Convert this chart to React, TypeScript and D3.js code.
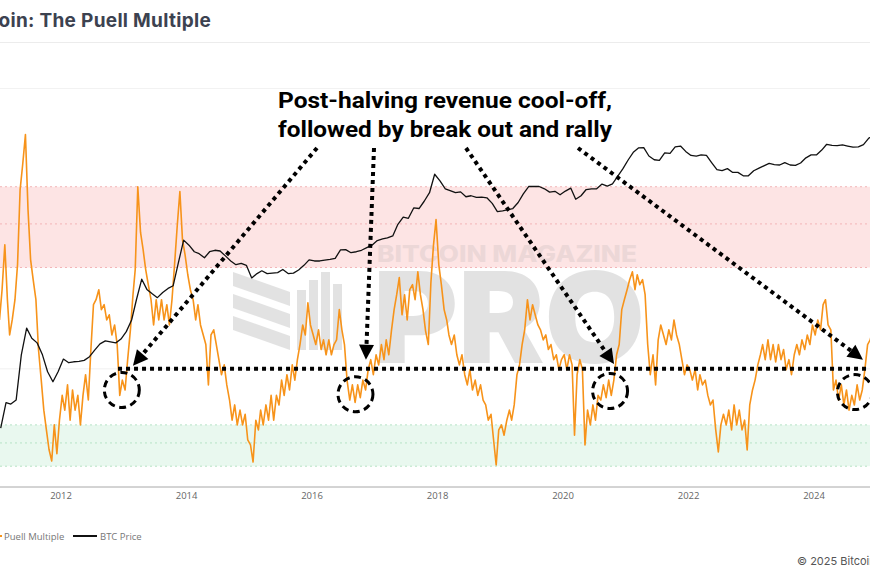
import * as d3 from 'd3'

// Puell Multiple, two readings per month (8th and 23rd), Jan 2011 .. Dec 2024
const puell2011 = [1.83, 2.66, 4.64, 2.35, 1.52, 1.83, 2.35, 3.63, 9.17, 12.5, 18.1, 7.16, 3.86, 3.01, 2.35, 1.27, 0.87, 0.6, 0.47, 0.37, 0.32, 0.5, 0.35, 0.53]
const puell2012 = [0.72, 0.6, 0.82, 0.53, 0.77, 0.6, 0.72, 0.5, 0.72, 0.93, 0.68, 1.27, 2.21, 2.35, 2.66, 2.08, 2.21, 1.83, 1.95, 1.52, 1.72, 1.35, 0.72, 0.87]
const puell2013 = [0.77, 1.12, 1.62, 2.5, 3.41, 9.5, 5.4, 4.36, 3.41, 2.83, 2.35, 1.72, 2.35, 1.83, 2.35, 1.83, 2.21, 1.72, 2.35, 3.63, 5.94, 8.95, 4.94, 4.1]
const puell2014 = [3.2, 2.66, 2.35, 1.83, 2.21, 1.72, 1.52, 1.35, 0.82, 1.52, 1.62, 1.35, 1.12, 0.93, 1.05, 0.82, 0.68, 0.53, 0.64, 0.5, 0.6, 0.5, 0.57, 0.415]
const puell2015 = [0.39, 0.316, 0.53, 0.47, 0.6, 0.5, 0.64, 0.53, 0.72, 0.53, 0.72, 0.64, 0.87, 0.72, 0.93, 0.77, 1.05, 0.87, 1.12, 1.35, 1.72, 1.52, 2.26, 1.72]
const puell2016 = [1.52, 1.35, 1.62, 1.27, 1.43, 1.19, 1.43, 1.19, 1.35, 1.43, 2.08, 1.62, 1.35, 0.87, 0.68, 0.82, 0.66, 0.82, 0.7, 0.87, 0.77, 0.99, 1.12, 0.93]
const puell2017 = [1.19, 1.05, 1.35, 1.12, 1.43, 1.19, 1.62, 2.08, 2.5, 3.09, 1.95, 2.5, 1.83, 2.66, 2.83, 2.35, 3.32, 2.5, 2.08, 1.6, 1.35, 2.9, 4.6, 6.33]
const puell2018 = [3.63, 2.83, 2.08, 1.83, 1.52, 1.35, 1.52, 1.19, 1.05, 1.19, 0.93, 0.82, 0.99, 0.77, 0.87, 0.72, 0.82, 0.68, 0.64, 0.53, 0.57, 0.415, 0.305, 0.47]
const puell2019 = [0.5, 0.44, 0.53, 0.6, 0.53, 0.64, 0.93, 1.05, 1.35, 1.62, 2.35, 1.83, 2.21, 1.95, 1.72, 1.62, 1.43, 1.52, 1.27, 1.35, 1.12, 1.19, 0.99, 1.12]
const puell2020 = [1.19, 0.99, 1.19, 1.05, 0.44, 0.93, 1.12, 0.99, 0.39, 0.6, 0.5, 0.64, 0.53, 0.72, 0.68, 0.82, 0.7, 0.87, 0.72, 0.87, 1.19, 1.35, 2.08, 2.35]
const puell2021 = [2.66, 3.01, 3.32, 2.66, 3.2, 2.83, 3.01, 2.5, 1.35, 0.93, 1.19, 0.82, 1.43, 1.72, 1.52, 1.35, 1.62, 1.43, 1.83, 1.52, 1.35, 1.12, 0.93, 1.05]
const puell2022 = [0.99, 0.87, 0.99, 0.77, 0.93, 0.82, 0.87, 0.72, 0.64, 0.68, 0.47, 0.358, 0.5, 0.57, 0.5, 0.6, 0.47, 0.64, 0.5, 0.6, 0.47, 0.53, 0.367, 0.64]
const puell2023 = [0.77, 0.87, 1.05, 1.19, 1.35, 1.12, 1.43, 1.12, 1.35, 1.09, 1.35, 1.12, 1.27, 0.99, 1.12, 0.93, 1.19, 1.35, 1.19, 1.43, 1.27, 1.52, 1.35, 1.72]
const puell2024 = [1.52, 1.83, 1.62, 2.21, 2.35, 1.72, 1.62, 0.77, 0.87, 0.68, 0.82, 0.64, 0.77, 0.6, 0.72, 0.64, 0.82, 0.68, 0.77, 0.99, 1.35, 1.43, 1.62, 1.83]

// BTC price (USD), mid-month, Jan 2011 .. Dec 2024
const price2011 = [0.26, 0.8, 0.75, 0.9, 6.5, 21, 13.5, 11, 6.5, 3.1, 2.0, 3.1]
const price2012 = [5.4, 4.6, 4.8, 4.9, 5.1, 6, 8, 10.5, 12, 11.5, 11, 13]
const price2013 = [18, 30, 73, 180, 115, 95, 80, 100, 120, 135, 380, 1000]
const price2014 = [800, 600, 550, 460, 600, 640, 620, 500, 400, 340, 360, 330]
const price2015 = [190, 230, 260, 230, 235, 240, 275, 230, 235, 270, 330, 420]
const price2016 = [400, 400, 415, 430, 450, 650, 660, 575, 600, 640, 720, 800]
const price2017 = [980, 1050, 1100, 1200, 2000, 2750, 2600, 4100, 4000, 5500, 8000, 18000]
const price2018 = [13500, 9500, 8800, 8000, 8300, 6700, 7000, 6500, 6600, 6400, 5000, 3500]
const price2019 = [3600, 3800, 4000, 5200, 7600, 10500, 10500, 10500, 9500, 8200, 8500, 7300]
const price2020 = [8600, 9800, 6000, 7000, 9200, 9500, 9500, 11700, 10700, 11800, 16500, 23000]
const price2021 = [34000, 48000, 57000, 58000, 40000, 34000, 33000, 46000, 45000, 60000, 62000, 49000]
const price2022 = [41000, 40000, 42000, 41000, 30000, 22000, 21000, 23000, 19500, 19500, 16800, 16800]
const price2023 = [21000, 23500, 26000, 29000, 27500, 27000, 30000, 27000, 26500, 29500, 37000, 42000]
const price2024 = [42000, 52000, 67000, 64000, 63000, 65000, 62000, 59000, 60000, 66000, 88000, 97000]

const tickYears = [2012, 2014, 2016, 2018, 2020, 2022, 2024]

// zones on the Puell axis
const redBand = [3.5, 6, 9.5]
const greenBand = [0.3, 0.4, 0.5]

// annotation anchors (date, Puell level)
const breakoutLevel = 1
const breakoutStart = new Date(2012, 10, 28)
const lowDates = [new Date(2012, 11, 20), new Date(2016, 8, 10), new Date(2020, 9, 1), new Date(2024, 7, 26)]
const lowLevels = [0.77, 0.73, 0.76, 0.75]
const tipDates = [new Date(2013, 1, 23), new Date(2016, 10, 10), new Date(2020, 9, 24), new Date(2024, 9, 12)]
const tipLevels = [1.04, 1.12, 1.06, 1.12]
const arrowStarts = [[317, 148], [374, 148], [466, 148], [578, 148]]

const W = 870
const H = 570
const top = 88
const bottom = 487

const ORANGE = '#f7931a'

export default function App() {
    const puellRows = [puell2011, puell2012, puell2013, puell2014, puell2015, puell2016, puell2017, puell2018, puell2019, puell2020, puell2021, puell2022, puell2023, puell2024]
    const priceRows = [price2011, price2012, price2013, price2014, price2015, price2016, price2017, price2018, price2019, price2020, price2021, price2022, price2023, price2024]

    const puellData: { d: Date, v: number }[] = []
    puellRows.forEach((row, yi) => {
        row.forEach((v, j) => {
            puellData.push({ d: new Date(2011 + yi, Math.floor(j / 2), j % 2 ? 23 : 8), v })
        })
    })
    const priceData: { d: Date, v: number }[] = []
    priceRows.forEach((row, yi) => {
        row.forEach((v, m) => priceData.push({ d: new Date(2011 + yi, m, 15), v }))
    })

    const x = d3.scaleTime()
        .domain([new Date(2012, 0, 1), new Date(2024, 0, 1)])
        .range([61, 814])
    const yP = d3.scaleLog().domain([0.232, 32.2]).range([bottom, top])
    const yB = d3.scaleLog().domain([0.0197, 792000]).range([bottom, top])

    const puellLine = d3.line<{ d: Date, v: number }>()
        .x(p => x(p.d))
        .y(p => yP(p.v))
    const priceLine = d3.line<{ d: Date, v: number }>()
        .x(p => x(p.d))
        .y(p => yB(p.v))

    const arrows = tipDates.map((td, i) => {
        const [sx, sy] = arrowStarts[i]
        const tx = x(td)
        const ty = yP(tipLevels[i])
        const dx = tx - sx, dy = ty - sy
        const len = Math.sqrt(dx * dx + dy * dy)
        const ux = dx / len, uy = dy / len
        const L = 15, hw = 7.5
        const bx = tx - ux * L, by = ty - uy * L
        const head = `${tx},${ty} ${bx - uy * hw},${by + ux * hw} ${bx + uy * hw},${by - ux * hw}`
        return { sx, sy, ex: bx, ey: by, head }
    })

    const font = "Inter, 'Noto Sans', sans-serif"
    const small = "'Open Sans', 'DejaVu Sans', sans-serif"

    return (
        <svg width={W} height={H} style={{ position: 'absolute', left: 0, top: 0, background: '#fff' }}>
            <text x={211} y={27} textAnchor="end" fontFamily={font} fontWeight={700} fontSize={19} letterSpacing={0.3} fill="#3c4250">
                Bitcoin: The Puell Multiple
            </text>
            <line x1={0} x2={W} y1={42.5} y2={42.5} stroke="#ececec" />
            <line x1={0} x2={W} y1={top + 0.5} y2={top + 0.5} stroke="#f2f2f2" />

            {/* zones */}
            <rect x={0} width={W} y={yP(redBand[2])} height={yP(redBand[0]) - yP(redBand[2])} fill="#fde4e4" />
            <rect x={0} width={W} y={yP(greenBand[2])} height={yP(greenBand[0]) - yP(greenBand[2])} fill="#e9f8ef" />
            {redBand.map(v => (
                <line key={'r' + v} x1={0} x2={W} y1={yP(v)} y2={yP(v)} stroke="#f3b5b8" strokeDasharray="2 3" />
            ))}
            {greenBand.map(v => (
                <line key={'g' + v} x1={0} x2={W} y1={yP(v)} y2={yP(v)} stroke="#b7e3c6" strokeDasharray="2 3" />
            ))}
            <line x1={0} x2={W} y1={yP(1)} y2={yP(1)} stroke="#f0f0f0" />

            {/* watermark */}
            <g fill="#9a9a9a" opacity={0.28}>
                <polygon points="233,272 290,292 290,306 233,286" />
                <polygon points="233,294 290,314 290,328 233,308" />
                <polygon points="233,316 290,336 290,350 233,330" />
                <rect x={297} y={290} width={9} height={60} />
                <rect x={309} y={280} width={9} height={70} />
                <rect x={321} y={272} width={9} height={78} />
                <rect x={333} y={284} width={9} height={66} />
                <text x={373} y={363} fontFamily={font} fontWeight={900} fontSize={126} textLength={272} lengthAdjust="spacingAndGlyphs">PRO</text>
                <text x={377} y={262} fontFamily={font} fontWeight={800} fontSize={23} textLength={260} lengthAdjust="spacingAndGlyphs" opacity={0.6}>BITCOIN MAGAZINE</text>
            </g>

            {/* series */}
            <path d={puellLine(puellData) || ''} fill="none" stroke={ORANGE} strokeWidth={1.6} strokeLinejoin="round" />
            <path d={priceLine(priceData) || ''} fill="none" stroke="#111" strokeWidth={1.3} strokeLinejoin="round" />

            {/* x axis */}
            <line x1={0} x2={W} y1={bottom} y2={bottom} stroke="#a8a8a8" strokeWidth={1} />
            {tickYears.map(yr => (
                <text key={yr} x={x(new Date(yr, 0, 1))} y={499} textAnchor="middle" fontFamily={small} fontSize={9.5} fill="#666">{yr}</text>
            ))}

            {/* annotation */}
            <text x={445} y={108} textAnchor="middle" fontFamily="Roboto, Inter, sans-serif" fontWeight={700} fontSize={22} fill="#000" textLength={334} lengthAdjust="spacingAndGlyphs">
                Post-halving revenue cool-off,
            </text>
            <text x={445} y={137} textAnchor="middle" fontFamily="Roboto, Inter, sans-serif" fontWeight={700} fontSize={22} fill="#000" textLength={334} lengthAdjust="spacingAndGlyphs">
                followed by break out and rally
            </text>
            <line x1={x(breakoutStart)} x2={W} y1={yP(breakoutLevel)} y2={yP(breakoutLevel)} stroke="#000" strokeWidth={4} strokeDasharray="4 4" />
            {arrows.map((a, i) => (
                <g key={i}>
                    <line x1={a.sx} y1={a.sy} x2={a.ex} y2={a.ey} stroke="#000" strokeWidth={4} strokeDasharray="4 4" />
                    <polygon points={a.head} fill="#000" />
                </g>
            ))}
            {lowDates.map((d, i) => (
                <circle key={i} cx={x(d)} cy={yP(lowLevels[i])} r={17.5} fill="none" stroke="#000" strokeWidth={3} strokeDasharray="7 4.5" />
            ))}

            {/* legend */}
            <line x1={-20} x2={2} y1={536} y2={536} stroke={ORANGE} strokeWidth={2} />
            <text x={4} y={539.5} fontFamily={small} fontSize={9.5} fill="#777">Puell Multiple</text>
            <line x1={73} x2={97} y1={536} y2={536} stroke="#111" strokeWidth={2} />
            <text x={100} y={539.5} fontFamily={small} fontSize={9.5} fill="#777">BTC Price</text>

            <text x={797} y={565} fontFamily={font} fontSize={11} fill="#555">© 2025 Bitcoin Magazine Pro</text>
        </svg>
    )
}
